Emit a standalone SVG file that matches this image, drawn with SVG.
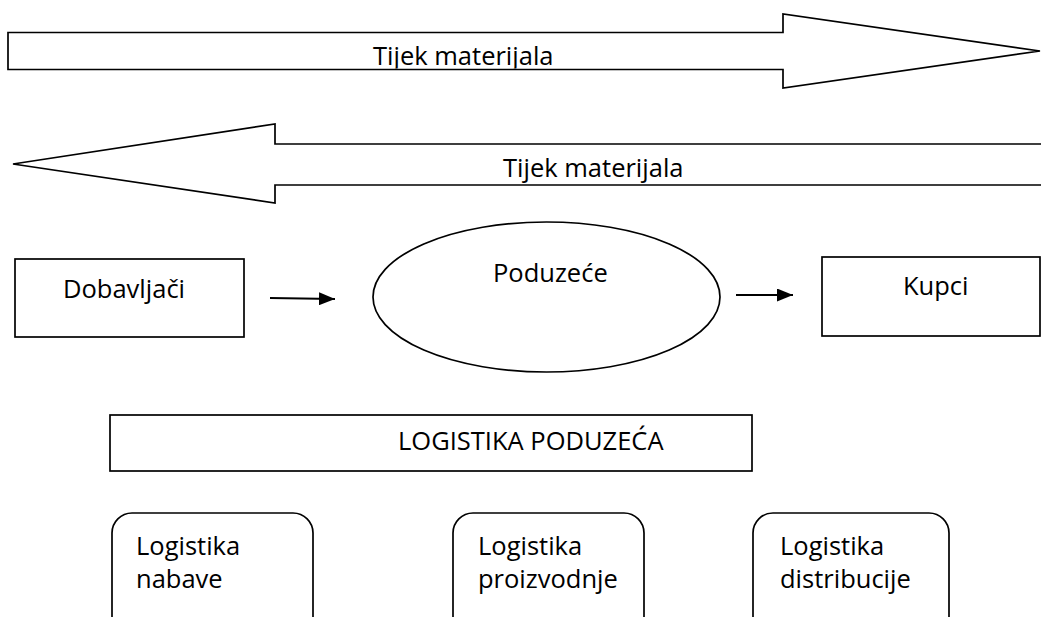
<svg xmlns="http://www.w3.org/2000/svg" width="1041" height="617" viewBox="0 0 1041 617">
<style>
.s{fill:#fff;stroke:#000;stroke-width:1.7}
.t{font-family:"Open Sans","Liberation Sans",sans-serif;font-size:25.5px;fill:#000}
.c{stroke:#000;stroke-width:2.2;fill:none}
</style>
<defs>
<marker id="ah" viewBox="0 0 10 10" refX="10" refY="5" markerWidth="16" markerHeight="13" markerUnits="userSpaceOnUse" orient="auto" preserveAspectRatio="none">
<path d="M0,0 L10,5 L0,10 z" fill="#000"/>
</marker>
<clipPath id="cl1"><rect x="8" y="33" width="780" height="35.5"/></clipPath>
<clipPath id="cl2"><rect x="270" y="145" width="780" height="38.5"/></clipPath>
</defs>
<rect width="1041" height="617" fill="#fff"/>
<g id="flow1">
<polygon class="s" points="8,32.5 783,32.5 783,14 1040,51 783,88 783,69.5 8,69.5"/>
<text class="t" x="373" y="65" clip-path="url(#cl1)">Tijek materijala</text>
</g>
<g id="flow2">
<path class="s" d="M1050,144 L275,144 L275,124 L13,164 L275,203 L275,185 L1050,185"/>
<text class="t" x="503" y="177" clip-path="url(#cl2)">Tijek materijala</text>
</g>
<g id="dobavljaci">
<rect class="s" x="15" y="259" width="229" height="78"/>
<text class="t" x="63" y="298">Dobavljači</text>
</g>
<g id="poduzece">
<ellipse class="s" cx="546.5" cy="297" rx="173.5" ry="75"/>
<text class="t" x="493" y="282">Poduzeće</text>
</g>
<g id="kupci">
<rect class="s" x="822" y="257" width="218" height="79"/>
<text class="t" x="903" y="295">Kupci</text>
</g>
<g id="logistika">
<rect class="s" x="110" y="415" width="642" height="56"/>
<text class="t" x="398" y="450" font-size="23.5">LOGISTIKA PODUZEĆA</text>
</g>
<g id="nabava">
<rect class="s" x="112" y="513" width="201" height="130" rx="20"/>
<text class="t" x="136" y="555">Logistika</text>
<text class="t" x="136" y="588">nabave</text>
</g>
<g id="proizvodnja">
<rect class="s" x="453" y="513" width="191" height="130" rx="20"/>
<text class="t" x="478" y="555">Logistika</text>
<text class="t" x="478" y="588">proizvodnje</text>
</g>
<g id="distribucija">
<rect class="s" x="753" y="513" width="196" height="130" rx="20"/>
<text class="t" x="780" y="555">Logistika</text>
<text class="t" x="780" y="588">distribucije</text>
</g>
<g id="connectors">
<line class="c" x1="270" y1="298" x2="335" y2="299" marker-end="url(#ah)"/>
<line class="c" x1="736" y1="295" x2="793" y2="295" marker-end="url(#ah)"/>
</g>
</svg>
